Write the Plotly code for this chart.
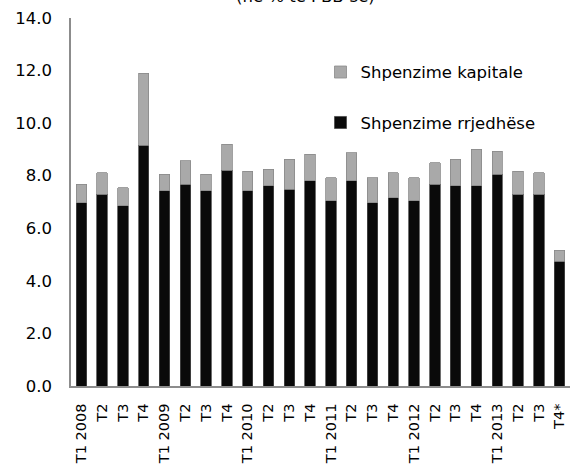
import plotly.graph_objects as go

categories = ["T1 2008", "T2", "T3", "T4",
              "T1 2009", "T2", "T3", "T4",
              "T1 2010", "T2", "T3", "T4",
              "T1 2011", "T2", "T3", "T4",
              "T1 2012", "T2", "T3", "T4",
              "T1 2013", "T2", "T3", "T4*"]

current = [6.97, 7.3, 6.86, 9.16,
           7.43, 7.68, 7.43, 8.21,
           7.43, 7.62, 7.49, 7.81,
           7.05, 7.81, 6.98, 7.17,
           7.05, 7.68, 7.62, 7.62,
           8.06, 7.3, 7.3, 4.75]

total = [7.67, 8.12, 7.54, 11.9,
         8.05, 8.56, 8.05, 9.2,
         8.17, 8.24, 8.62, 8.81,
         7.92, 8.88, 7.92, 8.11,
         7.92, 8.49, 8.62, 9.0,
         8.94, 8.17, 8.11, 5.17]

capital = [round(t - c, 2) for t, c in zip(total, current)]

ytick_vals = [0, 2, 4, 6, 8, 10, 12, 14]
ytick_text = ["0.0", "2.0", "4.0", "6.0", "8.0", "10.0", "12.0", "14.0"]

xpos = list(range(len(categories)))

FONT = "DejaVu Sans"

fig = go.Figure()
fig.add_trace(go.Bar(
    x=xpos, y=current, name="Shpenzime rrjedhëse",
    marker=dict(color="#0a0a0a", line=dict(color="#4a4a4a", width=0.8)),
    legendgroup="b", legendrank=2,
))
fig.add_trace(go.Bar(
    x=xpos, y=capital, name="Shpenzime kapitale",
    marker=dict(color="#a9a9a9", line=dict(color="#8a8a8a", width=0.8)),
    legendgroup="a", legendrank=1,
))

fig.update_layout(
    barmode="stack",
    bargap=0.5,
    width=571, height=466,
    margin=dict(l=71, r=1, t=18, b=80),
    paper_bgcolor="white", plot_bgcolor="white",
    font=dict(family=FONT, color="#000000", size=16),
    showlegend=True,
    legend=dict(
        x=0.5, y=0.90, xanchor="left", yanchor="top",
        font=dict(family=FONT, size=16.5, color="#000000"),
        bgcolor="rgba(0,0,0,0)",
        tracegroupgap=26,
        itemwidth=30,
    ),
    xaxis=dict(
        tickmode="array", tickvals=xpos, ticktext=categories,
        tickangle=-90, range=[-0.5, len(categories) - 0.5],
        showline=True, linecolor="#8c8c8c", linewidth=1.5,
        showgrid=False, ticks="", zeroline=False,
        tickfont=dict(family=FONT, size=14.5),
        ticklabelstandoff=10,
    ),
    yaxis=dict(
        range=[0, 14], tickmode="array", tickvals=ytick_vals, ticktext=ytick_text,
        showline=True, linecolor="#8c8c8c", linewidth=1.5,
        showgrid=False, ticks="", zeroline=False,
        tickfont=dict(family=FONT, size=16.5),
        ticklabelstandoff=14,
    ),
    annotations=[dict(
        text="(në % të PBB-së)", xref="paper", yref="paper",
        x=0.47, y=1.026, xanchor="center", yanchor="bottom",
        showarrow=False, font=dict(family=FONT, size=16.5, color="#000000"),
    )],
)

fig.write_html("out.html")
